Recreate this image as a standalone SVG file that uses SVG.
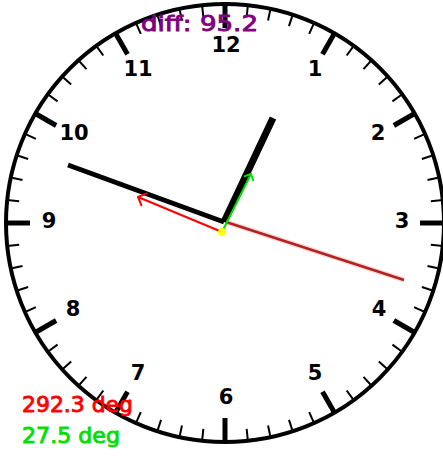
<svg xmlns="http://www.w3.org/2000/svg" xmlns:xlink="http://www.w3.org/1999/xlink" width="443" height="462" viewBox="0 0 443 462">
<style>
.num{font-family:"DejaVu Sans","Liberation Sans",sans-serif;font-weight:bold;font-size:21px;fill:#000;text-anchor:middle}
.lbl{font-family:"DejaVu Sans","Liberation Sans",sans-serif;font-size:22px;stroke-width:0.9}
.minor{stroke:#000;stroke-width:2}
.major{stroke:#000;stroke-width:5}
</style>
<defs>
<line id="mi" class="minor" x1="225" y1="4" x2="225" y2="16"/>
<line id="ma" class="major" x1="225" y1="4" x2="225" y2="28"/>
</defs>
<rect width="443" height="462" fill="#fff"/>
<g id="dial">
<circle cx="225" cy="223" r="219" fill="none" stroke="#000" stroke-width="4"/>
<g id="ticks">
<use xlink:href="#ma" transform="rotate(0 225 223)"/>
<use xlink:href="#mi" transform="rotate(6 225 223)"/>
<use xlink:href="#mi" transform="rotate(12 225 223)"/>
<use xlink:href="#mi" transform="rotate(18 225 223)"/>
<use xlink:href="#mi" transform="rotate(24 225 223)"/>
<use xlink:href="#ma" transform="rotate(30 225 223)"/>
<use xlink:href="#mi" transform="rotate(36 225 223)"/>
<use xlink:href="#mi" transform="rotate(42 225 223)"/>
<use xlink:href="#mi" transform="rotate(48 225 223)"/>
<use xlink:href="#mi" transform="rotate(54 225 223)"/>
<use xlink:href="#ma" transform="rotate(60 225 223)"/>
<use xlink:href="#mi" transform="rotate(66 225 223)"/>
<use xlink:href="#mi" transform="rotate(72 225 223)"/>
<use xlink:href="#mi" transform="rotate(78 225 223)"/>
<use xlink:href="#mi" transform="rotate(84 225 223)"/>
<use xlink:href="#ma" transform="rotate(90 225 223)"/>
<use xlink:href="#mi" transform="rotate(96 225 223)"/>
<use xlink:href="#mi" transform="rotate(102 225 223)"/>
<use xlink:href="#mi" transform="rotate(108 225 223)"/>
<use xlink:href="#mi" transform="rotate(114 225 223)"/>
<use xlink:href="#ma" transform="rotate(120 225 223)"/>
<use xlink:href="#mi" transform="rotate(126 225 223)"/>
<use xlink:href="#mi" transform="rotate(132 225 223)"/>
<use xlink:href="#mi" transform="rotate(138 225 223)"/>
<use xlink:href="#mi" transform="rotate(144 225 223)"/>
<use xlink:href="#ma" transform="rotate(150 225 223)"/>
<use xlink:href="#mi" transform="rotate(156 225 223)"/>
<use xlink:href="#mi" transform="rotate(162 225 223)"/>
<use xlink:href="#mi" transform="rotate(168 225 223)"/>
<use xlink:href="#mi" transform="rotate(174 225 223)"/>
<use xlink:href="#ma" transform="rotate(180 225 223)"/>
<use xlink:href="#mi" transform="rotate(186 225 223)"/>
<use xlink:href="#mi" transform="rotate(192 225 223)"/>
<use xlink:href="#mi" transform="rotate(198 225 223)"/>
<use xlink:href="#mi" transform="rotate(204 225 223)"/>
<use xlink:href="#ma" transform="rotate(210 225 223)"/>
<use xlink:href="#mi" transform="rotate(216 225 223)"/>
<use xlink:href="#mi" transform="rotate(222 225 223)"/>
<use xlink:href="#mi" transform="rotate(228 225 223)"/>
<use xlink:href="#mi" transform="rotate(234 225 223)"/>
<use xlink:href="#ma" transform="rotate(240 225 223)"/>
<use xlink:href="#mi" transform="rotate(246 225 223)"/>
<use xlink:href="#mi" transform="rotate(252 225 223)"/>
<use xlink:href="#mi" transform="rotate(258 225 223)"/>
<use xlink:href="#mi" transform="rotate(264 225 223)"/>
<use xlink:href="#ma" transform="rotate(270 225 223)"/>
<use xlink:href="#mi" transform="rotate(276 225 223)"/>
<use xlink:href="#mi" transform="rotate(282 225 223)"/>
<use xlink:href="#mi" transform="rotate(288 225 223)"/>
<use xlink:href="#mi" transform="rotate(294 225 223)"/>
<use xlink:href="#ma" transform="rotate(300 225 223)"/>
<use xlink:href="#mi" transform="rotate(306 225 223)"/>
<use xlink:href="#mi" transform="rotate(312 225 223)"/>
<use xlink:href="#mi" transform="rotate(318 225 223)"/>
<use xlink:href="#mi" transform="rotate(324 225 223)"/>
<use xlink:href="#ma" transform="rotate(330 225 223)"/>
<use xlink:href="#mi" transform="rotate(336 225 223)"/>
<use xlink:href="#mi" transform="rotate(342 225 223)"/>
<use xlink:href="#mi" transform="rotate(348 225 223)"/>
<use xlink:href="#mi" transform="rotate(354 225 223)"/>
</g>
<g id="numbers">
<text class="num" x="226" y="52">12</text>
<text class="num" x="315" y="76">1</text>
<text class="num" x="378" y="140">2</text>
<text class="num" x="402" y="228">3</text>
<text class="num" x="379" y="316">4</text>
<text class="num" x="315" y="380">5</text>
<text class="num" x="226" y="404">6</text>
<text class="num" x="138" y="380">7</text>
<text class="num" x="73" y="316">8</text>
<text class="num" x="49" y="228">9</text>
<text class="num" x="74" y="140">10</text>
<text class="num" x="138" y="76">11</text>
</g>
</g>
<g id="hands">
<line x1="224" y1="222" x2="68" y2="165" stroke="#000" stroke-width="5"/>
<line x1="224" y1="222" x2="273" y2="118" stroke="#000" stroke-width="7"/>
<line x1="226" y1="222" x2="404" y2="280" stroke="#f4b0b0" stroke-width="5" opacity="0.5"/>
<line x1="226" y1="222" x2="404" y2="280" stroke="#b22222" stroke-width="2.5"/>
</g>
<g id="connectors" fill="none" stroke-width="2" stroke-linecap="round" stroke-linejoin="round">
<g id="red-arrow" stroke="#ff0000">
<line x1="222" y1="232" x2="138" y2="197"/>
<polyline points="141.4,205.3 138,197 146.3,193.6"/>
</g>
<g id="green-arrow" stroke="#00e000">
<line x1="222" y1="232" x2="251" y2="174"/>
<polyline points="244.8,176.1 251,174 253.1,180.2"/>
</g>
</g>
<circle id="pivot" cx="222" cy="232" r="4" fill="#ffff00"/>
<g id="labels">
<text class="lbl" x="141" y="31" font-size="25" fill="#800080" stroke="#800080" textLength="117" lengthAdjust="spacingAndGlyphs">diff: 95.2</text>
<text class="lbl" x="22" y="412" fill="#ff0000" stroke="#ff0000" textLength="111" lengthAdjust="spacingAndGlyphs">292.3 deg</text>
<text class="lbl" x="22" y="443" fill="#00e000" stroke="#00e000" textLength="98" lengthAdjust="spacingAndGlyphs">27.5 deg</text>
</g>
</svg>
